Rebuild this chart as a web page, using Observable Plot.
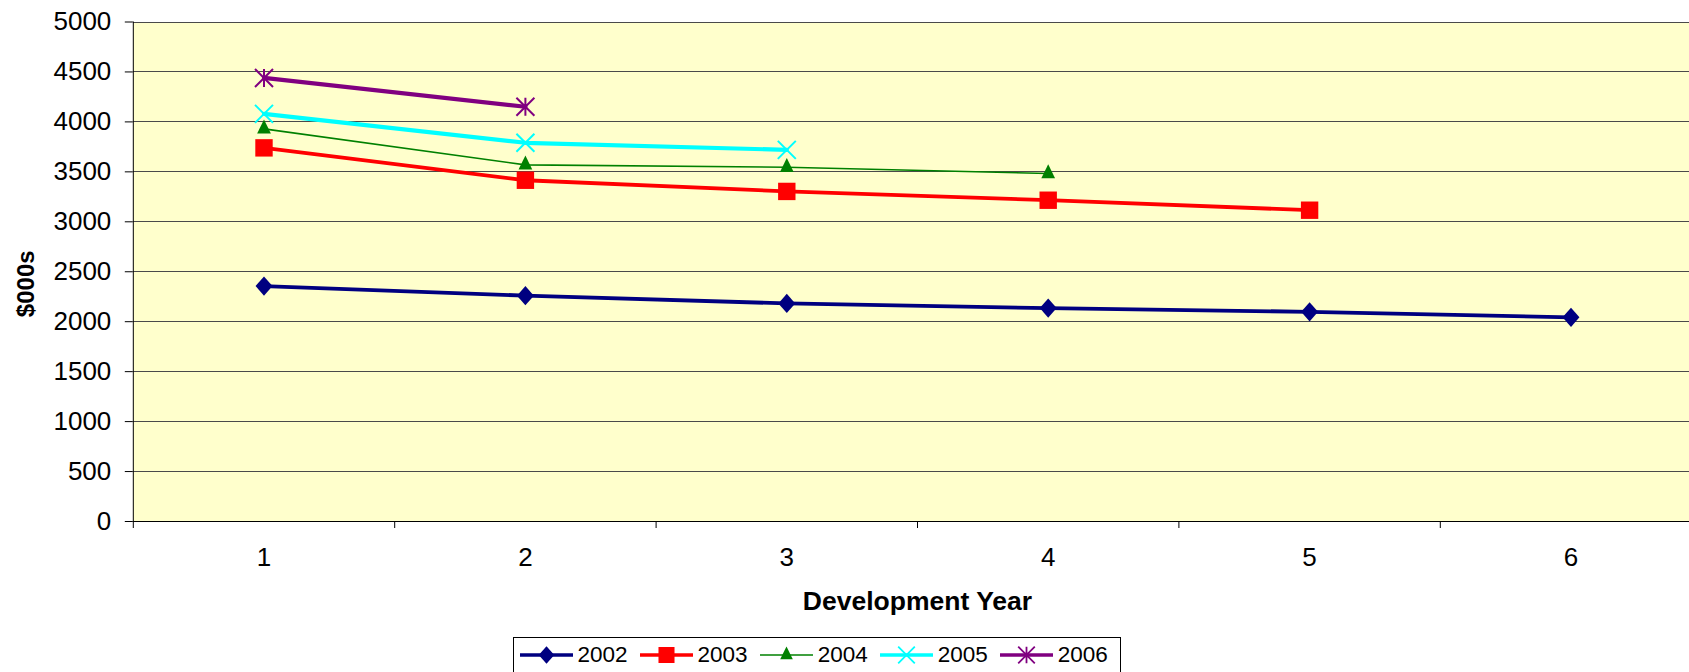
<!DOCTYPE html>
<html>
<head>
<meta charset="utf-8">
<script src="https://cdn.jsdelivr.net/npm/d3@7"></script>
<script src="https://cdn.jsdelivr.net/npm/@observablehq/plot@0.6"></script>
<style>
  html, body { margin: 0; padding: 0; background: #fff; overflow: hidden; }
  #wrap { position: relative; width: 1689px; height: 672px; font-family: "Liberation Sans", Arial, sans-serif; }
  #legend {
    position: absolute; left: 513px; top: 637px; width: 608px; height: 36px;
    box-sizing: border-box; border: 1px solid #000; background: #fff;
    display: flex; align-items: center; gap: 12.5px; padding-left: 6px;
    font-size: 22.5px; color: #000;
  }
  #legend .item { display: flex; align-items: center; }
  #legend .item span { margin-left: 4.5px; line-height: 1; }
</style>
</head>
<body>
<div id="wrap">
  <div id="chart"></div>
  <div id="legend"></div>
</div>
<script>
// Accident years (one line each) and development years (x axis)
const seriesYears = ["2002", "2003", "2004", "2005", "2006"];
const devYears = [1, 2, 3, 4, 5, 6];

// Values in $000s by development year
const cost2002 = [2357, 2261, 2183, 2136, 2099, 2044];
const cost2003 = [3740, 3416, 3304, 3216, 3116];
const cost2004 = [3930, 3570, 3546, 3483];
const cost2005 = [4080, 3791, 3720];
const cost2006 = [4440, 4152];

// Y axis tick labels
const yTicks = [0, 500, 1000, 1500, 2000, 2500, 3000, 3500, 4000, 4500, 5000];

// Styling per series
const seriesColors = ["#000080", "#FF0000", "#008000", "#00FFFF", "#800080"];
const lineWidths = [3.8, 3.8, 1.6, 4.2, 4.2];

// Marker shapes (radius R derived from the symbol size as Plot passes it)
const rad = size => Math.sqrt(size / Math.PI);
const diamondMarker = { draw(ctx, size) { const R = rad(size); const w = R * 0.88;
  ctx.moveTo(0, -R); ctx.lineTo(w, 0); ctx.lineTo(0, R); ctx.lineTo(-w, 0); ctx.closePath(); } };
const squareMarker = { draw(ctx, size) { const R = rad(size);
  ctx.rect(-R, -R, 2 * R, 2 * R); } };
const triangleMarker = { draw(ctx, size) { const R = rad(size);
  ctx.moveTo(0, -1.33 * R); ctx.lineTo(0.98 * R, 0.67 * R); ctx.lineTo(-0.98 * R, 0.67 * R); ctx.closePath(); } };
const timesMarker = { draw(ctx, size) { const R = rad(size);
  ctx.moveTo(-R, -R); ctx.lineTo(R, R); ctx.moveTo(-R, R); ctx.lineTo(R, -R); } };
const starMarker = { draw(ctx, size) { const R = rad(size);
  ctx.moveTo(-R, -R); ctx.lineTo(R, R); ctx.moveTo(-R, R); ctx.lineTo(R, -R);
  ctx.moveTo(0, -R); ctx.lineTo(0, R); } };

const markers = [
  { symbol: diamondMarker, r: 9.6, filled: true },
  { symbol: squareMarker, r: 8.7, filled: true },
  { symbol: triangleMarker, r: 7, filled: true },
  { symbol: timesMarker, r: 9, filled: false },
  { symbol: starMarker, r: 9, filled: false }
];

const seriesValues = [cost2002, cost2003, cost2004, cost2005, cost2006];

// Tidy rows: one per (series, development year)
const rows = seriesYears.flatMap((s, i) =>
  seriesValues[i].map((v, j) => ({ series: s, dev: devYears[j], value: v })));

// Category boundaries for the x axis tick marks
const bandEdges = [devYears[0] - 0.5, ...devYears.map(d => d + 0.5)];

const seriesMarks = seriesYears.flatMap((s, i) => {
  const data = rows.filter(d => d.series === s);
  const m = markers[i];
  return [
    Plot.line(data, { x: "dev", y: "value", stroke: seriesColors[i], strokeWidth: lineWidths[i], strokeLinejoin: "round" }),
    Plot.dot(data, m.filled
      ? { x: "dev", y: "value", symbol: m.symbol, r: m.r, fill: seriesColors[i], stroke: "none" }
      : { x: "dev", y: "value", symbol: m.symbol, r: m.r, fill: "none", stroke: seriesColors[i], strokeWidth: 2 })
  ];
});

const chart = Plot.plot({
  width: 1689,
  height: 632,
  marginTop: 21.5,
  marginBottom: 111,
  marginLeft: 132.8,
  marginRight: -12.2,
  style: { fontFamily: "'Liberation Sans', Arial, sans-serif", fontSize: "26px", color: "#000", background: "transparent", overflow: "visible" },
  x: { domain: [bandEdges[0], bandEdges[bandEdges.length - 1]], ticks: devYears, tickSize: 0, tickPadding: 26, tickFormat: d => String(d), label: null },
  y: { domain: [0, 5000], ticks: yTicks, tickSize: 8, tickPadding: 14, tickFormat: d => String(d), label: null },
  marks: [
    Plot.frame({ fill: "#FFFFCC", stroke: "none" }),
    Plot.ruleY(yTicks.filter(v => v > 0), { stroke: "#4a4a4a", shapeRendering: "crispEdges" }),
    Plot.ruleX(bandEdges, { y1: 0, y2: 0, insetBottom: -7, stroke: "#000" }),
    Plot.ruleY([0], { stroke: "#000" }),
    Plot.ruleX([bandEdges[0]], { stroke: "#000" }),
    ...seriesMarks,
    Plot.text(["$000s"], { frameAnchor: "left", textAnchor: "middle", rotate: -90, dx: -107, dy: 12, fontWeight: "bold", fontSize: 24 }),
    Plot.text(["Development Year"], { frameAnchor: "bottom", textAnchor: "middle", lineAnchor: "middle", dy: 80.5, fontWeight: "bold", fontSize: 26.5 })
  ]
});
document.getElementById("chart").appendChild(chart);

// Legend: line sample with marker, then the series label
const legend = d3.select("#legend");
seriesYears.forEach((s, i) => {
  const item = legend.append("div").attr("class", "item");
  const svg = item.append("svg").attr("width", 53).attr("height", 24);
  svg.append("line").attr("x1", 0).attr("x2", 53).attr("y1", 12).attr("y2", 12)
    .attr("stroke", seriesColors[i]).attr("stroke-width", Math.min(lineWidths[i], 3.4));
  const m = markers[i];
  const path = d3.symbol(m.symbol, Math.PI * m.r * m.r * 0.85)();
  svg.append("path").attr("d", path).attr("transform", "translate(26.5,12)")
    .attr("fill", m.filled ? seriesColors[i] : "none")
    .attr("stroke", m.filled ? "none" : seriesColors[i])
    .attr("stroke-width", m.filled ? 0 : 1.8);
  item.append("span").text(s);
});
</script>
</body>
</html>
